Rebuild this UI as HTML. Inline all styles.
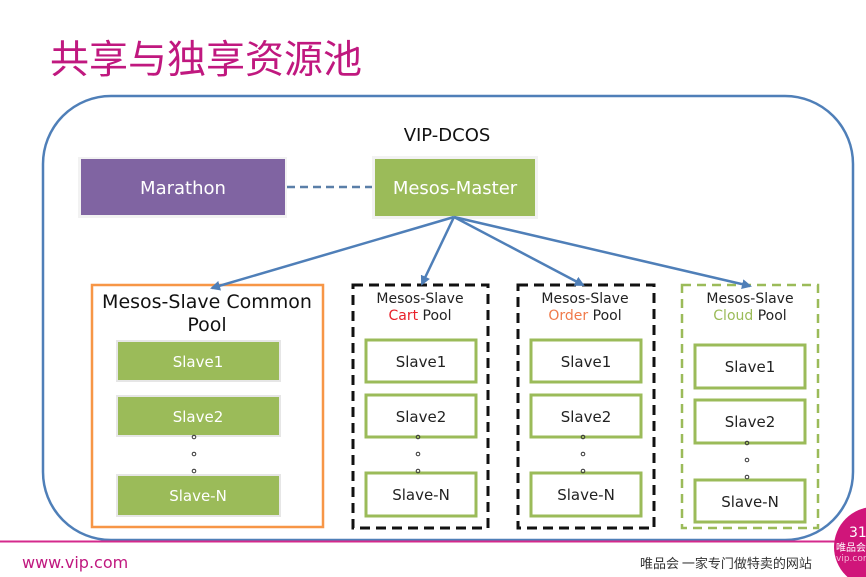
<!DOCTYPE html>
<html><head><meta charset="utf-8"><style>
html,body{margin:0;padding:0;background:#fff;width:866px;height:577px;overflow:hidden}
svg text{font-family:"DejaVu Sans","Liberation Sans",sans-serif}
</style></head><body>
<svg width="866" height="577" viewBox="0 0 866 577" xmlns="http://www.w3.org/2000/svg">
<defs>
<marker id="ah" markerWidth="10" markerHeight="10" refX="8" refY="5" orient="auto" markerUnits="userSpaceOnUse">
<path d="M0,0 L10,5 L0,10 z" fill="#4f7fb8"/></marker>
</defs>
<text x="50" y="73" font-size="39" fill="#c0187f" style='font-family:"Noto Sans CJK SC",sans-serif'>共享与独享资源池</text>
<rect x="43" y="96" width="810" height="444" rx="68" fill="none" stroke="#4f7fb8" stroke-width="2.5"/>
<line x1="0" y1="541.5" x2="866" y2="541.5" stroke="#d42a8c" stroke-width="2"/>
<text x="447" y="141" font-size="18" text-anchor="middle" fill="#111">VIP-DCOS</text>
<rect x="78" y="157" width="209" height="61" fill="#f2f2f2"/>
<rect x="81" y="159" width="204" height="56" fill="#8064a2"/>
<text x="183" y="194" font-size="18" text-anchor="middle" fill="#fff">Marathon</text>
<line x1="287" y1="187" x2="373" y2="187" stroke="#5a7fa8" stroke-width="2.5" stroke-dasharray="8,5"/>
<rect x="372" y="156" width="166" height="63" fill="#f2f2f2"/>
<rect x="375" y="159" width="160" height="57" fill="#9bbb59"/>
<text x="455" y="194" font-size="18" text-anchor="middle" fill="#fff">Mesos-Master</text>
<!-- common -->
<rect x="92" y="285" width="231" height="242" fill="#fff" stroke="#f79646" stroke-width="2.5"/>
<text x="207" y="308" font-size="19" text-anchor="middle" fill="#111">Mesos-Slave Common</text>
<text x="207" y="331" font-size="19" text-anchor="middle" fill="#111">Pool</text>
<g fill="#9bbb59" stroke="#e6e6e6" stroke-width="2">
<rect x="117" y="341" width="163" height="40"/><rect x="117" y="396" width="163" height="40"/><rect x="117" y="475" width="163" height="41"/></g>
<g font-size="15" text-anchor="middle" fill="#fff"><text x="198" y="367">Slave1</text><text x="198" y="422">Slave2</text><text x="198" y="501">Slave-N</text></g>
<g fill="none" stroke="#333" stroke-width="1"><circle cx="194" cy="437" r="1.8"/><circle cx="194" cy="454" r="1.8"/><circle cx="194" cy="471" r="1.8"/></g>
<!-- cart -->
<rect x="353" y="285" width="135" height="243" fill="#fff" stroke="#111" stroke-width="3" stroke-dasharray="10,6"/>
<text x="420" y="303" font-size="14" text-anchor="middle" fill="#222">Mesos-Slave</text>
<text x="420" y="320" font-size="14" text-anchor="middle" fill="#222"><tspan fill="#e8202a">Cart</tspan> Pool</text>
<g fill="#fff" stroke="#9bbb59" stroke-width="3">
<rect x="366" y="340" width="110" height="42"/><rect x="366" y="395" width="110" height="42"/><rect x="366" y="473" width="110" height="43"/>
<rect x="531" y="340" width="110" height="42"/><rect x="531" y="395" width="110" height="42"/><rect x="531" y="473" width="110" height="43"/>
<rect x="695" y="345" width="110" height="43"/><rect x="695" y="400" width="110" height="43"/><rect x="695" y="480" width="110" height="42"/></g>
<g font-size="15" text-anchor="middle" fill="#222">
<text x="421" y="367">Slave1</text><text x="421" y="422">Slave2</text><text x="421" y="500">Slave-N</text>
<text x="586" y="367">Slave1</text><text x="586" y="422">Slave2</text><text x="586" y="500">Slave-N</text>
<text x="750" y="372">Slave1</text><text x="750" y="427">Slave2</text><text x="750" y="507">Slave-N</text></g>
<g fill="none" stroke="#333" stroke-width="1">
<circle cx="418" cy="437" r="1.8"/><circle cx="418" cy="454" r="1.8"/><circle cx="418" cy="471" r="1.8"/>
<circle cx="583" cy="437" r="1.8"/><circle cx="583" cy="454" r="1.8"/><circle cx="583" cy="471" r="1.8"/>
<circle cx="747" cy="443" r="1.8"/><circle cx="747" cy="460" r="1.8"/><circle cx="747" cy="477" r="1.8"/></g>
<!-- order -->
<rect x="518" y="285" width="136" height="243" fill="none" stroke="#111" stroke-width="3" stroke-dasharray="10,6"/>
<text x="585" y="303" font-size="14" text-anchor="middle" fill="#222">Mesos-Slave</text>
<text x="585" y="320" font-size="14" text-anchor="middle" fill="#222"><tspan fill="#f07a4a">Order</tspan> Pool</text>
<!-- cloud -->
<rect x="682" y="285" width="136" height="243" fill="none" stroke="#9bbb59" stroke-width="2.5" stroke-dasharray="9,6"/>
<text x="750" y="303" font-size="14" text-anchor="middle" fill="#222">Mesos-Slave</text>
<text x="750" y="320" font-size="14" text-anchor="middle" fill="#222"><tspan fill="#9bbb59">Cloud</tspan> Pool</text>
<g stroke="#4f7fb8" stroke-width="2.5" marker-end="url(#ah)">
<line x1="454" y1="217" x2="212" y2="288"/>
<line x1="454" y1="217" x2="422" y2="284"/>
<line x1="454" y1="217" x2="583" y2="285"/>
<line x1="454" y1="217" x2="750" y2="286"/>
</g>
<!-- footer -->
<text x="22" y="568" font-size="16" fill="#c0187f">www.vip.com</text>
<text x="640" y="568" font-size="13" fill="#333" style='font-family:"Noto Sans CJK SC",sans-serif'>唯品会 一家专门做特卖的网站</text>
<circle cx="874" cy="547" r="40" fill="#d0157a"/>
<text x="849" y="537" font-size="14" fill="#fff">31</text>
<text x="836" y="551" font-size="10" fill="#fff" style='font-family:"Noto Sans CJK SC",sans-serif'>唯品会</text>
<text x="836" y="561" font-size="9" fill="#f5b8d8">vip.com</text>
</svg>
</body></html>
